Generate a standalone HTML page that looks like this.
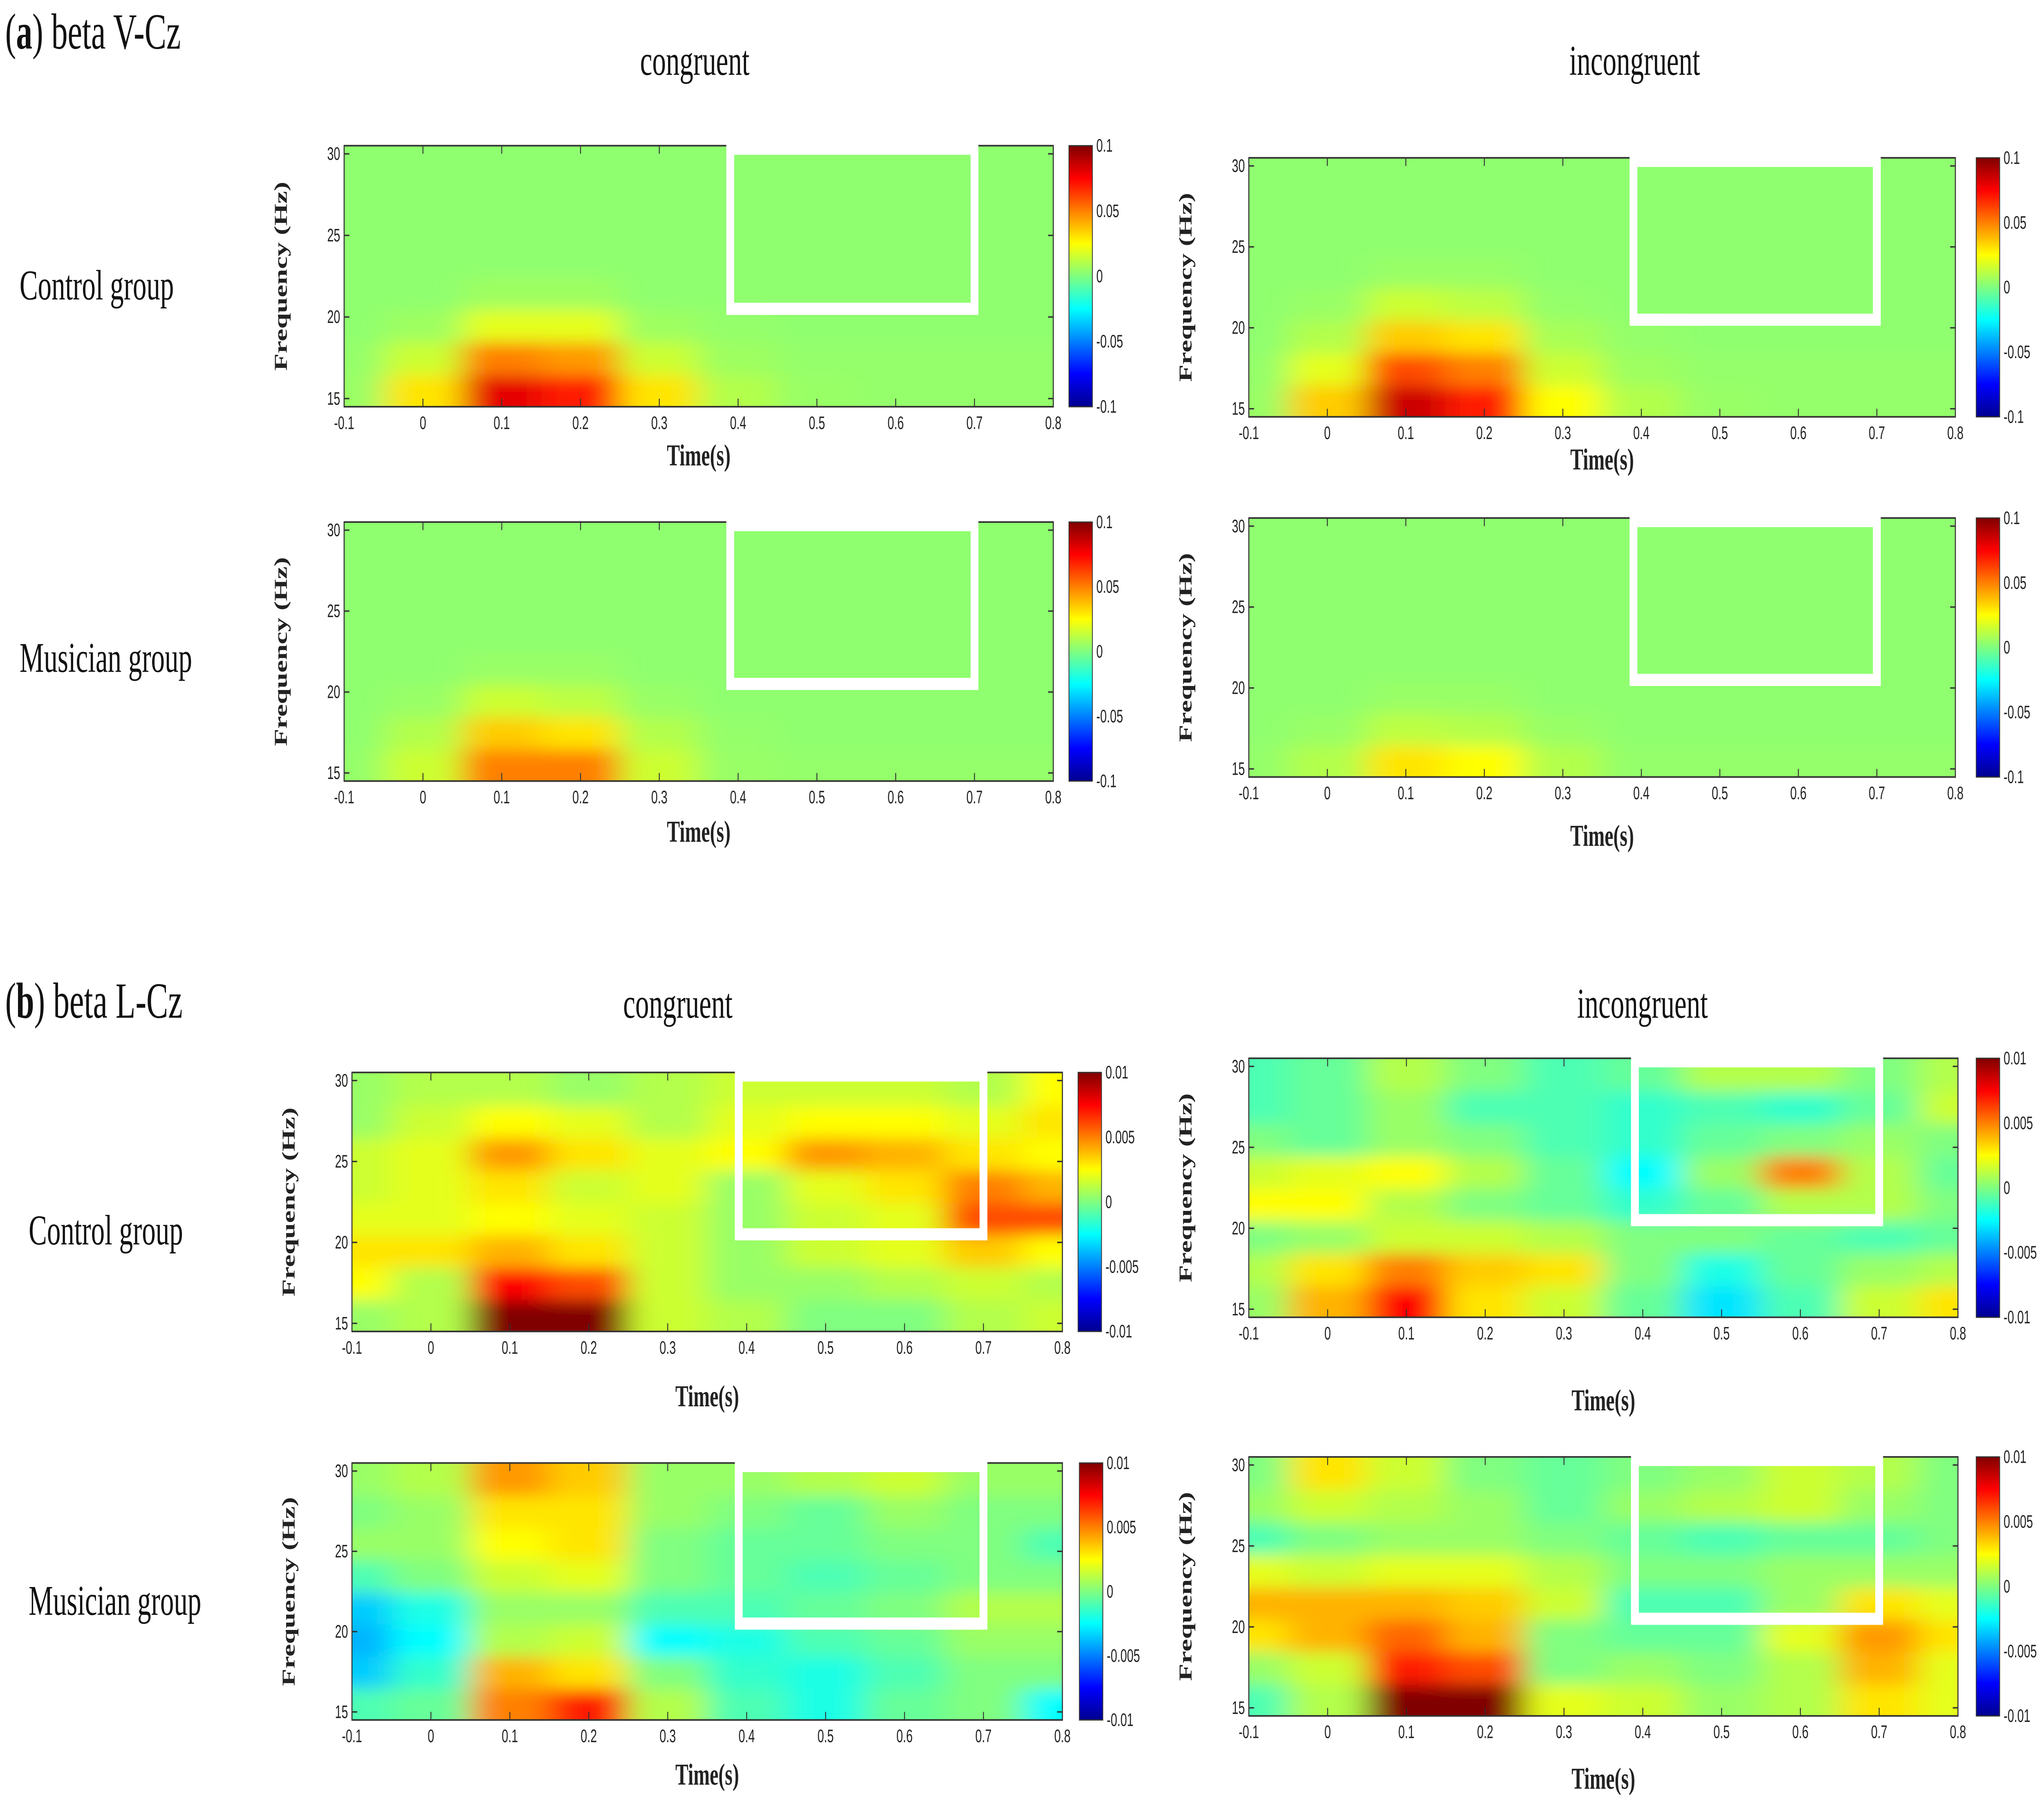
<!DOCTYPE html>
<html><head><meta charset="utf-8">
<style>
html,body{margin:0;padding:0;background:#fff;width:100%;height:100%;overflow:hidden;}
svg{display:block;width:100vw;height:100vh;}
.ser{font-family:"Liberation Serif",serif;}
.tk{font-family:"Liberation Sans",sans-serif;font-size:9px;fill:#222;}
</style></head>
<body>
<svg id="fig" viewBox="0 0 1568 894" preserveAspectRatio="none" xmlns="http://www.w3.org/2000/svg">
<defs>
<linearGradient id="jet" x1="0" y1="1" x2="0" y2="0">
<stop offset="0" stop-color="#00008f"/><stop offset="0.125" stop-color="#0000ff"/>
<stop offset="0.375" stop-color="#00ffff"/><stop offset="0.625" stop-color="#ffff00"/>
<stop offset="0.875" stop-color="#ff0000"/><stop offset="1" stop-color="#800000"/>
</linearGradient>
<filter id="blur" x="-0.2" y="-0.3" width="1.4" height="1.6"><feGaussianBlur stdDeviation="12 4"/></filter>
</defs>
<g class="ser" fill="#111">
<text x="4" y="24" font-size="25">(<tspan font-weight="bold">a</tspan>)  beta V-Cz</text>
<text x="4" y="503" font-size="25">(<tspan font-weight="bold">b</tspan>)  beta L-Cz</text>
<text x="533" y="37" font-size="21" text-anchor="middle">congruent</text>
<text x="1254" y="37" font-size="21" text-anchor="middle">incongruent</text>
<text x="520" y="503" font-size="21" text-anchor="middle">congruent</text>
<text x="1260" y="503" font-size="21" text-anchor="middle">incongruent</text>
<text x="15" y="148" font-size="21">Control group</text>
<text x="15" y="332" font-size="21">Musician group</text>
<text x="22" y="615" font-size="21">Control group</text>
<text x="22" y="798" font-size="21">Musician group</text>
</g>
<g id="panels"></g>
</svg>
<script>
const timeTicks=[-0.1,0,0.1,0.2,0.3,0.4,0.5,0.6,0.7,0.8];
const freqTicks=[15,20,25,30];
const boxStart=0.39, boxEnd=0.70, boxFreq=20.5;
const cbA=["0.1","0.05","0","-0.05","-0.1"];
const cbB=["0.01","0.005","0","-0.005","-0.01"];
// normalised values (-1..1); rows 2 Hz bins bottom (14.5-16.5) to top (28.5-30.5); cols centred at -0.1,0,...,0.8 s
const aCongCtrl=[[0.05,0.3,0.8,0.7,0.3,0.1,0.05,0.04,0.04,0.04],[0.04,0.15,0.5,0.45,0.15,0.06,0.04,0.04,0.04,0.04],[0.03,0.06,0.2,0.2,0.06,0.04,0.03,0.03,0.03,0.03],[0.03,0.03,0.06,0.06,0.03,0.03,0.03,0.03,0.03,0.03],[0.03,0.03,0.03,0.03,0.03,0.03,0.03,0.03,0.03,0.03],[0.03,0.03,0.03,0.03,0.03,0.03,0.03,0.03,0.03,0.03],[0.03,0.03,0.03,0.03,0.03,0.03,0.03,0.03,0.03,0.03],[0.03,0.03,0.03,0.03,0.03,0.03,0.03,0.03,0.03,0.03]];
const aIncCtrl=[[0.05,0.35,0.85,0.7,0.25,0.1,0.05,0.04,0.04,0.04],[0.04,0.2,0.6,0.5,0.15,0.06,0.04,0.04,0.04,0.04],[0.03,0.1,0.35,0.3,0.08,0.04,0.03,0.03,0.03,0.03],[0.03,0.05,0.15,0.12,0.04,0.03,0.03,0.03,0.03,0.03],[0.03,0.03,0.05,0.05,0.03,0.03,0.03,0.03,0.03,0.03],[0.03,0.03,0.03,0.03,0.03,0.03,0.03,0.03,0.03,0.03],[0.03,0.03,0.03,0.03,0.03,0.03,0.03,0.03,0.03,0.03],[0.03,0.03,0.03,0.03,0.03,0.03,0.03,0.03,0.03,0.03]];
const aCongMus=[[0.04,0.15,0.5,0.5,0.15,0.05,0.04,0.04,0.04,0.04],[0.03,0.1,0.35,0.3,0.1,0.04,0.03,0.03,0.03,0.03],[0.03,0.05,0.15,0.12,0.05,0.03,0.03,0.03,0.03,0.03],[0.03,0.03,0.05,0.05,0.03,0.03,0.03,0.03,0.03,0.03],[0.03,0.03,0.03,0.03,0.03,0.03,0.03,0.03,0.03,0.03],[0.03,0.03,0.03,0.03,0.03,0.03,0.03,0.03,0.03,0.03],[0.03,0.03,0.03,0.03,0.03,0.03,0.03,0.03,0.03,0.03],[0.03,0.03,0.03,0.03,0.03,0.03,0.03,0.03,0.03,0.03]];
const aIncMus=[[0.04,0.1,0.3,0.25,0.1,0.04,0.04,0.04,0.04,0.04],[0.03,0.05,0.12,0.1,0.05,0.03,0.03,0.03,0.03,0.03],[0.03,0.03,0.05,0.05,0.03,0.03,0.03,0.03,0.03,0.03],[0.03,0.03,0.03,0.03,0.03,0.03,0.03,0.03,0.03,0.03],[0.03,0.03,0.03,0.03,0.03,0.03,0.03,0.03,0.03,0.03],[0.03,0.03,0.03,0.03,0.03,0.03,0.03,0.03,0.03,0.03],[0.03,0.03,0.03,0.03,0.03,0.03,0.03,0.03,0.03,0.03],[0.03,0.03,0.03,0.03,0.03,0.03,0.03,0.03,0.03,0.03]];
const bCongCtrl=[[0.05,0.1,1.0,1.0,0.15,0.1,0.0,0.0,0.1,0.15],[0.25,0.1,0.75,0.6,0.15,0.05,0.05,0.1,0.15,0.1],[0.3,0.3,0.4,0.3,0.15,0.05,0.15,0.2,0.35,0.25],[0.2,0.2,0.25,0.2,0.15,0.05,0.15,0.2,0.6,0.6],[0.15,0.2,0.3,0.15,0.2,0.05,0.2,0.3,0.5,0.4],[0.15,0.2,0.45,0.3,0.2,0.25,0.45,0.4,0.3,0.25],[0.05,0.15,0.25,0.2,0.1,0.2,0.25,0.25,0.2,0.3],[0.05,0.1,0.1,0.05,0.1,0.15,0.15,0.15,0.1,0.25]];
const bIncCtrl=[[0.05,0.4,0.75,0.3,0.15,-0.05,-0.3,-0.1,0.15,0.3],[0.1,0.3,0.5,0.35,0.3,0.0,-0.2,-0.05,0.05,0.1],[0.0,0.05,0.15,0.15,0.1,0.0,0.0,-0.05,-0.1,-0.05],[0.25,0.25,0.1,0.0,-0.05,-0.15,-0.05,0.1,0.1,0.0],[0.15,0.2,0.25,0.1,-0.05,-0.25,0.05,0.5,0.1,-0.05],[0.0,-0.05,0.05,0.0,-0.1,-0.15,-0.05,0.0,0.05,0.0],[-0.1,-0.05,0.05,-0.1,-0.1,-0.15,-0.1,-0.15,-0.05,0.15],[-0.1,-0.05,0.1,0.0,-0.1,-0.05,0.1,0.1,0.0,0.1]];
const bCongMus=[[-0.1,-0.05,0.5,0.7,0.1,-0.1,-0.2,-0.05,0.0,-0.25],[-0.35,-0.15,0.4,0.3,0.0,-0.15,-0.2,-0.1,0.0,0.0],[-0.4,-0.25,0.1,0.15,-0.25,-0.2,-0.1,-0.05,0.05,0.05],[-0.35,-0.2,0.05,0.05,-0.1,-0.1,-0.05,0.0,0.1,0.1],[-0.1,0.0,0.15,0.2,0.0,-0.05,-0.1,-0.05,0.0,0.0],[0.05,0.05,0.25,0.3,0.0,-0.05,-0.05,0.0,0.0,-0.1],[0.0,0.05,0.3,0.3,0.05,0.0,-0.05,0.05,0.0,0.0],[0.05,0.1,0.45,0.35,0.05,0.05,0.1,0.15,0.05,0.05]];
const bIncMus=[[-0.1,0.1,1.0,1.0,0.2,0.15,0.05,0.1,0.3,0.2],[0.05,0.15,0.7,0.6,0.0,0.05,0.0,0.1,0.4,0.2],[0.3,0.4,0.55,0.4,0.0,-0.05,-0.05,0.2,0.45,0.3],[0.4,0.4,0.4,0.35,0.15,-0.1,-0.1,0.05,0.3,0.2],[0.2,0.15,0.2,0.2,0.1,0.0,0.0,0.05,0.05,0.05],[-0.1,0.0,0.05,0.05,0.0,-0.05,-0.1,-0.05,-0.05,0.0],[0.05,0.15,0.1,0.05,-0.05,0.05,0.1,0.15,0.05,0.0],[0.0,0.3,0.15,0.0,-0.05,0.0,0.05,0.15,0.1,0.0]];

const panels=[
 {id:"a-congruent-control",d:aCongCtrl,x:264,y:72,w:544,h:129,cx:820,cb:cbA,tl:230},
 {id:"a-incongruent-control",d:aIncCtrl,x:958,y:78,w:542,h:128,cx:1516,cb:cbA,tl:232},
 {id:"a-congruent-musician",d:aCongMus,x:264,y:258,w:544,h:128,cx:820,cb:cbA,tl:416},
 {id:"a-incongruent-musician",d:aIncMus,x:958,y:256,w:542,h:128,cx:1516,cb:cbA,tl:418},
 {id:"b-congruent-control",d:bCongCtrl,x:270,y:530,w:545,h:128,cx:827,cb:cbB,tl:695},
 {id:"b-incongruent-control",d:bIncCtrl,x:958,y:523,w:544,h:128,cx:1516,cb:cbB,tl:697},
 {id:"b-congruent-musician",d:bCongMus,x:270,y:723,w:545,h:127,cx:828,cb:cbB,tl:882},
 {id:"b-incongruent-musician",d:bIncMus,x:958,y:720,w:544,h:128,cx:1516,cb:cbB,tl:884}
];
const NS="http://www.w3.org/2000/svg";
function mk(t,a,p){const e=document.createElementNS(NS,t);for(const k in a)e.setAttribute(k,a[k]);p.appendChild(e);return e;}
function jet(v){const t=Math.max(0,Math.min(1,(v+1)/2));const c=x=>Math.round(255*Math.max(0,Math.min(1,1.5-Math.abs(4*t-x))));return `rgb(${c(3)},${c(2)},${c(1)})`;}
const root=document.getElementById("panels");
panels.forEach((p,i)=>{
 const g=mk("g",{},root);
 
 
 const xs=t=>p.x+(t+0.1)/0.9*p.w;
 const ys=f=>p.y+p.h-(f-14.5)/16*p.h;
 const cp=mk("clipPath",{id:"cp"+i},g);mk("rect",{x:p.x,y:p.y,width:p.w,height:p.h},cp);
 const cg=mk("g",{"clip-path":"url(#cp"+i+")"},g);
 const hg=mk("g",{filter:"url(#blur)"},cg);
 const nr=p.d.length,nc=p.d[0].length;
 p.d.forEach((row,r)=>row.forEach((v,c)=>{
  let x0=xs(-0.15+0.1*c),x1=xs(-0.05+0.1*c);
  let y0=ys(14.5+16*(r+1)/nr),y1=ys(14.5+16*r/nr);
  if(c===0)x0-=40; if(c===nc-1)x1+=40;
  if(r===0)y1+=20; if(r===nr-1)y0-=20;
  const rc=mk("rect",{x:x0,y:y0,width:x1-x0+0.5,height:y1-y0+0.5,fill:jet(v)},hg);
  
  
 }));
 mk("rect",{x:p.x,y:p.y,width:p.w,height:p.h,fill:"none",stroke:"#333","stroke-width":0.8},g);
 timeTicks.forEach(t=>{
  mk("line",{x1:xs(t),x2:xs(t),y1:p.y+p.h,y2:p.y+p.h-4,stroke:"#333","stroke-width":0.7},g);
  mk("line",{x1:xs(t),x2:xs(t),y1:p.y,y2:p.y+4,stroke:"#333","stroke-width":0.7},g);
  const tx=mk("text",{x:xs(t),y:p.y+p.h+11,"text-anchor":"middle",class:"tk"},g);tx.textContent=String(t);
  
  
 });
 freqTicks.forEach(f=>{
  mk("line",{x1:p.x,x2:p.x+4,y1:ys(f),y2:ys(f),stroke:"#333","stroke-width":0.7},g);
  mk("line",{x1:p.x+p.w,x2:p.x+p.w-4,y1:ys(f),y2:ys(f),stroke:"#333","stroke-width":0.7},g);
  const tx=mk("text",{x:p.x-3,y:ys(f)+3,"text-anchor":"end",class:"tk"},g);tx.textContent=String(f);
  
  
 });
 const bx=mk("rect",{x:xs(boxStart),y:p.y+1.5,width:xs(boxEnd)-xs(boxStart),height:ys(boxFreq)-p.y-1.5,fill:"none",stroke:"#fff","stroke-width":6},g);
 
 
 const xt=mk("text",{x:xs(0.35),y:p.tl,"text-anchor":"middle",class:"ser","font-size":15,"font-weight":"bold",fill:"#222"},g);xt.textContent="Time(s)";
 
 
 const yx=p.x-44,yy=p.y+p.h/2;
 const yt=mk("text",{x:yx,y:yy,transform:`rotate(-90 ${yx} ${yy})`,"text-anchor":"middle",class:"ser","font-size":14,"font-weight":"bold",fill:"#222"},g);yt.textContent="Frequency (Hz)";
 
 
 const cb=mk("rect",{x:p.cx,y:p.y,width:18,height:p.h,fill:"url(#jet)",stroke:"#333","stroke-width":0.6},g);
 
 
 p.cb.forEach((l,k)=>{
  const yv=p.y+k*p.h/4;
  const tx=mk("text",{x:p.cx+21,y:yv+3,class:"tk"},g);tx.textContent=l;
  
  
 });
});
</script>
</body></html>
